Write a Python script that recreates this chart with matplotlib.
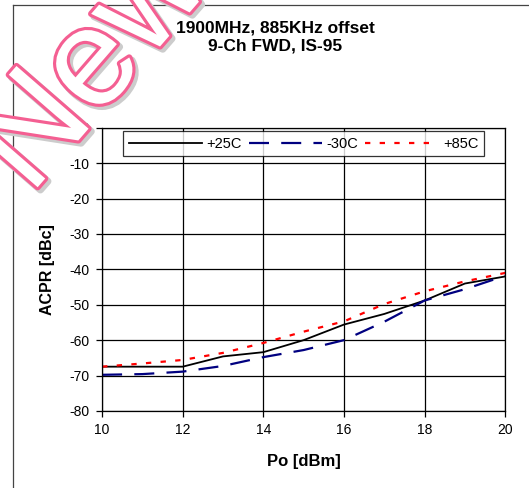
import matplotlib
matplotlib.use("Agg")
import matplotlib.pyplot as plt
import matplotlib.patheffects as pe
from matplotlib.lines import Line2D

plt.rcParams['font.family'] = ['Liberation Sans', 'DejaVu Sans']
plt.rcParams['axes.unicode_minus'] = False

# Po [dBm]
po = [10, 11, 12, 13, 14, 15, 16, 17, 18, 19, 20]
# ACPR [dBc] per temperature
acpr_25 = [-67.5, -67.5, -67.5, -64.6, -63.4, -60.0, -55.6, -52.6, -48.8, -44.0, -42.0]
acpr_m30 = [-69.8, -69.6, -68.9, -67.3, -64.8, -62.8, -60.0, -54.8, -48.8, -45.6, -41.8]
acpr_85 = [-67.5, -66.6, -65.6, -63.6, -60.8, -57.6, -54.7, -49.8, -46.2, -43.4, -41.0]

labels = ['+25C', '-30C', '+85C']
title = '1900MHz, 885KHz offset\n9-Ch FWD, IS-95'

fig = plt.figure(figsize=(5.29, 4.88), dpi=100)
ax = fig.add_axes([0.193, 0.158, 0.762, 0.580])

ax.plot(po, acpr_25, color='black', lw=1.3, label=labels[0])
ax.plot(po, acpr_m30, color='#000080', lw=1.6, dashes=(9, 5.5), label=labels[1])
ax.plot(po, acpr_85, color='#ff0000', lw=1.6, dashes=(2.4, 4.2), label=labels[2])

ax.set_xlim(10, 20)
ax.set_ylim(-80, 0)
ax.set_xticks(range(10, 21, 2))
ax.set_yticks(range(-80, 1, 10))
ax.grid(True, color='black', lw=0.9)
ax.tick_params(direction='out', length=4, width=0.9, labelsize=10, pad=5)
for s in ax.spines.values():
    s.set_linewidth(0.9)

ax.set_xlabel('Po [dBm]', fontsize=12, fontweight='bold', labelpad=12)
ax.set_ylabel('ACPR [dBc]', fontsize=11.5, fontweight='bold', labelpad=10)

leg = ax.legend(loc='upper center', ncol=3, fontsize=10.5, frameon=True,
                fancybox=False, edgecolor='black', handlelength=5.0,
                columnspacing=0.5, handletextpad=0.3, borderpad=0.4,
                borderaxespad=0.2, bbox_to_anchor=(0.5, 1.0))
leg.get_frame().set_linewidth(0.9)

fig.text(0.52, 0.924, title, ha='center', va='center', fontsize=12.5,
         fontweight='bold', linespacing=1.3)

# outer chart frame (partially visible)
fig.add_artist(Line2D([0.025, 1.0], [0.99, 0.99], color='#444444', lw=0.9,
                      transform=fig.transFigure))
fig.add_artist(Line2D([0.025, 0.025], [0.0, 0.99], color='#444444', lw=0.9,
                      transform=fig.transFigure))

# watermark
fig.text(0.178, 0.862, 'New', ha='center', va='center', rotation=49,
         rotation_mode='anchor', fontsize=100, color='white',
         path_effects=[pe.Stroke(linewidth=5, foreground='#cccccc', offset=(2, -2)),
                       pe.Stroke(linewidth=4.5, foreground='#f45f92'),
                       pe.Normal()],
         zorder=10)

fig.savefig('out.png', dpi=100)
